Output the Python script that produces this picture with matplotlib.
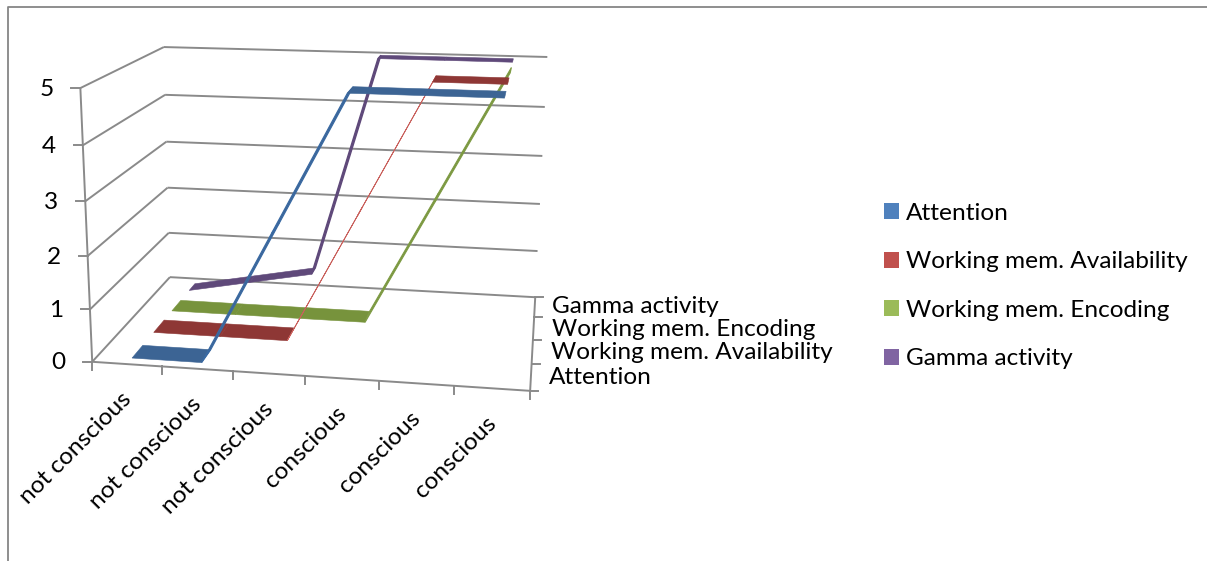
import matplotlib
matplotlib.use('Agg')
import matplotlib.pyplot as plt
from matplotlib.patches import Patch, Polygon
import numpy as np

plt.rcParams['font.family'] = ['Lato', 'DejaVu Sans']

# chart values
categories = ['not conscious', 'not conscious', 'not conscious', 'conscious', 'conscious', 'conscious']
series_names = ['Attention', 'Working mem. Availability', 'Working mem. Encoding', 'Gamma activity']
attention = [0, 0, 2.5, 5, 5, 5]
wm_availability = [0, 0, 0, 2.5, 5, 5]
wm_encoding = [0, 0, 0, 0, 2.5, 5]
gamma = [0, 0.25, 0.5, 5, 5, 5]
value_ticks = [0, 1, 2, 3, 4, 5]

all_series = [attention, wm_availability, wm_encoding, gamma]
top_colors = ['#3C6494', '#8E3735', '#77933C', '#5F497A']
edge_colors = ['#3A6AA3', '#C9605C', '#7F9C45', '#5F497A']
edge_widths = [0.9, 0.6, 0.8, 1.0]
base_colors = ['#4F81BD', '#C0504D', '#9BBB59', '#8064A2']
grid_color = '#8A8A8A'
font_size = 17.6

# where the box corners sit in the image: (x frac, depth frac, value) -> pixel
box_pts = [(0, 0, 0), (1, 0, 0), (0, 1, 0), (1, 1, 0), (0, 0, 5), (0, 1, 5), (1, 1, 5),
           (0, 0, 3), (0, 1, 3), (1, 1, 3)]
pix_pts = [(92, 362), (530, 391), (170, 277), (535, 297), (81, 88), (163, 47), (547, 57),
           (85, 201), (167, 142), (543, 156)]


def fit_projection(box, pix):
    # perspective camera matrix, least squares
    rows, rhs = [], []
    for (x, d, v), (u, w) in zip(box, pix):
        rows.append([x, d, v, 1, 0, 0, 0, 0, -u * x, -u * d, -u * v])
        rhs.append(u)
        rows.append([0, 0, 0, 0, x, d, v, 1, -w * x, -w * d, -w * v])
        rhs.append(w)
    sol = np.linalg.lstsq(np.array(rows, float), np.array(rhs, float), rcond=None)[0]
    return np.append(sol, 1).reshape(3, 4)


P = fit_projection(box_pts, pix_pts)


def project(x, d, v):
    p = P @ np.array([x, d, v, 1.0])
    return p[0] / p[2], p[1] / p[2]


fig = plt.figure(figsize=(12.07, 5.61), dpi=100)
ax = fig.add_axes([0, 0, 1, 1])
ax.set_xlim(0, 1207)
ax.set_ylim(561, 0)
ax.axis('off')


def edge(a, b, lw=1.4, color=grid_color, z=1):
    pa, pb = project(*a), project(*b)
    ax.plot([pa[0], pb[0]], [pa[1], pb[1]], color=color, lw=lw, zorder=z, solid_capstyle='butt')


# outer frame
ax.plot([8, 8, 1207], [561, 7, 7], color='#868686', lw=1.3, zorder=1)

# walls and gridlines
for v in value_ticks:
    edge((0, 0, v), (0, 1, v))
    edge((0, 1, v), (1, 1, v))
    px, py = project(0, 0, v)
    ax.plot([px - 9, px], [py, py], color=grid_color, lw=1.4, zorder=1)
    ax.text(px - 27, py + 1, str(v), ha='right', va='center', fontsize=font_size, color='black')
edge((0, 0, 0), (0, 0, 5))
edge((0, 0, 0), (1, 0, 0))
edge((1, 0, 0), (1, 1, 0))

# category ticks and labels
n_cat = len(categories)
for i in range(n_cat + 1):
    px, py = project(i / n_cat, 0, 0)
    ax.plot([px, px], [py, py + 8], color=grid_color, lw=1.4, zorder=1)
for i, name in enumerate(categories):
    px, py = project((i + 0.5) / n_cat, 0, 0)
    ax.text(px + 1, py + 32, name, rotation=45, rotation_mode='anchor', ha='right', va='center',
            fontsize=font_size, color='black')

# depth ticks and labels
for r in range(len(series_names) + 1):
    px, py = project(1, r / len(series_names), 0)
    ax.plot([px, px + 8], [py, py], color=grid_color, lw=1.4, zorder=1)
label_x = [549, 551, 552, 552]
label_y = [377, 352, 329, 306]
for r, name in enumerate(series_names):
    ax.text(label_x[r], label_y[r], name, ha='left', va='center', fontsize=font_size, color='black')

# ribbons, back row first
ribbon_depth = [(0.06, 0.19), (0.33, 0.47), (0.58, 0.71), (0.84, 0.93)]
for r in range(len(all_series) - 1, -1, -1):
    vals = all_series[r]
    d0, d1 = ribbon_depth[r]
    for i in range(n_cat - 1):
        x0, x1 = (i + 0.5) / n_cat, (i + 1.5) / n_cat
        quad = [project(x0, d0, vals[i]), project(x1, d0, vals[i + 1]),
                project(x1, d1, vals[i + 1]), project(x0, d1, vals[i])]
        # flat parts stay dark, steep parts get the lighter rim
        steep = abs(vals[i + 1] - vals[i]) > 1
        ax.add_patch(Polygon(quad, closed=True, facecolor=top_colors[r],
                             edgecolor=edge_colors[r] if steep else top_colors[r],
                             lw=edge_widths[r] if steep else 0.4, zorder=3 + (3 - r)))

# legend
handles = [Patch(facecolor=c, edgecolor='none', label=n) for c, n in zip(base_colors, series_names)]
ax.legend(handles=handles, loc='center left', bbox_to_anchor=(884 / 1207, 1 - 286 / 561), frameon=False,
          fontsize=font_size, handlelength=0.62, handleheight=0.62, handletextpad=0.28,
          labelspacing=1.13, borderpad=0, borderaxespad=0)

fig.savefig('out.png', dpi=100)
